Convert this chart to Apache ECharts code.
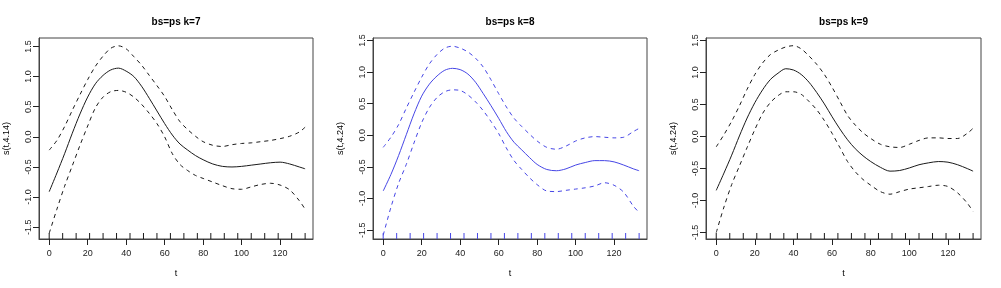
<!DOCTYPE html>
<html><head><meta charset="utf-8">
<script src="https://cdn.jsdelivr.net/npm/echarts@6/dist/echarts.min.js"></script>
<style>html,body{margin:0;padding:0;background:#fff}#c{width:1001px;height:288px}</style>
</head><body><div id="c"></div>
<script>
// ---- data ----
const tGrid = [0,4,8,12,16,20,24,28,32,36,40,44,48,52,56,60,64,68,72,76,80,85,90,95,100,105,110,115,120,125,130,133];
const rugT = [0,7,14,21,28,35,42,49,56,63,70,77,84,91,98,105,112,119,126,133];
const xTicks = [0,20,40,60,80,100,120];
const yTicks = [-1.5,-1,-0.5,0,0.5,1,1.5];
const titles = ['bs=ps k=7','bs=ps k=8','bs=ps k=9'];
const yNames = ['s(t,4.14)','s(t,4.24)','s(t,4.24)'];

const fit7   = [-0.91,-0.60,-0.28,0.06,0.38,0.66,0.88,1.02,1.11,1.14,1.09,1.00,0.84,0.64,0.43,0.22,0.03,-0.12,-0.22,-0.31,-0.38,-0.45,-0.49,-0.50,-0.49,-0.47,-0.45,-0.43,-0.42,-0.45,-0.50,-0.53];
const upper7 = [-0.22,-0.06,0.17,0.44,0.70,0.95,1.17,1.34,1.47,1.51,1.46,1.33,1.19,1.02,0.85,0.67,0.45,0.25,0.12,0.01,-0.08,-0.14,-0.16,-0.13,-0.11,-0.10,-0.08,-0.06,-0.03,0.01,0.08,0.16];
const lower7 = [-1.60,-1.20,-0.82,-0.48,-0.14,0.18,0.48,0.66,0.75,0.77,0.74,0.66,0.54,0.39,0.22,0.00,-0.28,-0.46,-0.56,-0.64,-0.69,-0.75,-0.81,-0.86,-0.87,-0.83,-0.79,-0.77,-0.80,-0.88,-1.06,-1.20];

const fit8   = [-0.88,-0.62,-0.32,0.01,0.34,0.62,0.81,0.94,1.03,1.06,1.04,0.97,0.84,0.66,0.47,0.27,0.06,-0.11,-0.23,-0.35,-0.46,-0.54,-0.56,-0.53,-0.47,-0.43,-0.40,-0.40,-0.42,-0.47,-0.53,-0.56];
const upper8 = [-0.19,-0.03,0.17,0.43,0.68,0.92,1.13,1.28,1.38,1.41,1.38,1.32,1.22,1.08,0.88,0.66,0.45,0.27,0.14,0.02,-0.09,-0.19,-0.22,-0.17,-0.09,-0.04,-0.02,-0.03,-0.04,-0.03,0.06,0.11];
const lower8 = [-1.58,-1.14,-0.76,-0.46,-0.12,0.20,0.44,0.60,0.69,0.72,0.71,0.64,0.53,0.39,0.22,0.03,-0.20,-0.40,-0.54,-0.67,-0.78,-0.88,-0.89,-0.87,-0.85,-0.83,-0.80,-0.75,-0.79,-0.90,-1.12,-1.22];

const fit9   = [-0.84,-0.57,-0.29,0.01,0.29,0.53,0.73,0.89,0.99,1.06,1.04,0.97,0.85,0.69,0.51,0.31,0.12,-0.05,-0.19,-0.30,-0.39,-0.48,-0.54,-0.53,-0.49,-0.44,-0.41,-0.39,-0.40,-0.44,-0.50,-0.54];
const upper9 = [-0.16,0.03,0.24,0.48,0.74,0.97,1.15,1.28,1.35,1.40,1.42,1.37,1.26,1.13,0.97,0.77,0.55,0.33,0.18,0.06,-0.03,-0.12,-0.16,-0.17,-0.12,-0.06,-0.02,-0.02,-0.03,-0.03,0.05,0.13];
const lower9 = [-1.50,-1.10,-0.75,-0.46,-0.17,0.11,0.36,0.53,0.64,0.70,0.70,0.66,0.55,0.42,0.25,0.05,-0.17,-0.39,-0.55,-0.67,-0.76,-0.86,-0.90,-0.86,-0.82,-0.80,-0.78,-0.76,-0.78,-0.88,-1.04,-1.17];

// ---- layout / style ----
const panels = [
  {fit: fit7, up: upper7, lo: lower7, color: '#1a1a1a', rug: '#1a1a1a', left: 39, width: 274, ymin: -1.695, ymax: 1.64},
  {fit: fit8, up: upper8, lo: lower8, color: '#4646e6', rug: '#4646e6', left: 373, width: 274, ymin: -1.64, ymax: 1.54},
  {fit: fit9, up: upper9, lo: lower9, color: '#1a1a1a', rug: '#1a1a1a', left: 706, width: 275, ymin: -1.60, ymax: 1.54}
];
const FONT = 'Liberation Sans, Arial, sans-serif';
const BOX = '#444';

const pairs = arr => tGrid.map((t, i) => [t, arr[i]]);

const option = {
  backgroundColor: '#fff',
  animation: false,
  title: panels.map((p, i) => ({
    text: titles[i], left: p.left + p.width / 2, top: 17, textAlign: 'center', padding: 0,
    textStyle: {fontFamily: FONT, fontSize: 10, fontWeight: 'bold', color: '#000'}
  })),
  grid: panels.map(p => ({left: p.left, top: 38, width: p.width, height: 201, show: true, borderColor: BOX, borderWidth: 1, backgroundColor: '#fff'})),
  xAxis: panels.map((p, i) => ({
    type: 'value', gridIndex: i, min: -5.3, max: 137.1,
    name: 't', nameLocation: 'middle', nameGap: 30,
    nameTextStyle: {fontFamily: FONT, fontSize: 9, color: '#000'},
    axisLine: {show: true, onZero: false, lineStyle: {color: BOX}},
    axisTick: {show: true, length: 6, customValues: xTicks, lineStyle: {color: '#222'}},
    axisLabel: {customValues: xTicks, margin: 10, fontFamily: FONT, fontSize: 9, color: '#222'},
    splitLine: {show: false}
  })),
  yAxis: panels.map((p, i) => ({
    type: 'value', gridIndex: i, min: p.ymin, max: p.ymax,
    name: yNames[i], nameLocation: 'middle', nameGap: 28, nameRotate: 90,
    nameTextStyle: {fontFamily: FONT, fontSize: 9, color: '#000'},
    axisLine: {show: true, onZero: false, lineStyle: {color: BOX}},
    axisTick: {show: true, length: 6, customValues: yTicks, lineStyle: {color: '#222'}},
    axisLabel: {customValues: yTicks, rotate: 90, margin: 6, fontFamily: FONT, fontSize: 9, color: '#222',
      formatter: v => v.toFixed(1)},
    splitLine: {show: false}
  })),
  series: []
};

panels.forEach((p, i) => {
  const base = {type: 'line', xAxisIndex: i, yAxisIndex: i, showSymbol: false, smooth: 0.3, silent: true};
  option.series.push(Object.assign({}, base, {data: pairs(p.fit), lineStyle: {color: p.color, width: 1}}));
  option.series.push(Object.assign({}, base, {data: pairs(p.up), lineStyle: {color: p.color, width: 1, type: [4, 4]}}));
  option.series.push(Object.assign({}, base, {data: pairs(p.lo), lineStyle: {color: p.color, width: 1, type: [4, 4]}}));
  option.series.push({
    type: 'custom', xAxisIndex: i, yAxisIndex: i, silent: true,
    data: rugT.map(t => [t, 0]),
    renderItem: (params, api) => {
      const x = api.coord([api.value(0), 0])[0];
      const cs = params.coordSys;
      const yb = cs.y + cs.height;
      return {type: 'line', shape: {x1: x, y1: yb, x2: x, y2: yb - 6}, style: {stroke: p.rug, lineWidth: 1}};
    }
  });
});

const chart = echarts.init(document.getElementById('c'), null, {renderer: 'canvas'});
chart.setOption(option);
</script>
</body></html>
